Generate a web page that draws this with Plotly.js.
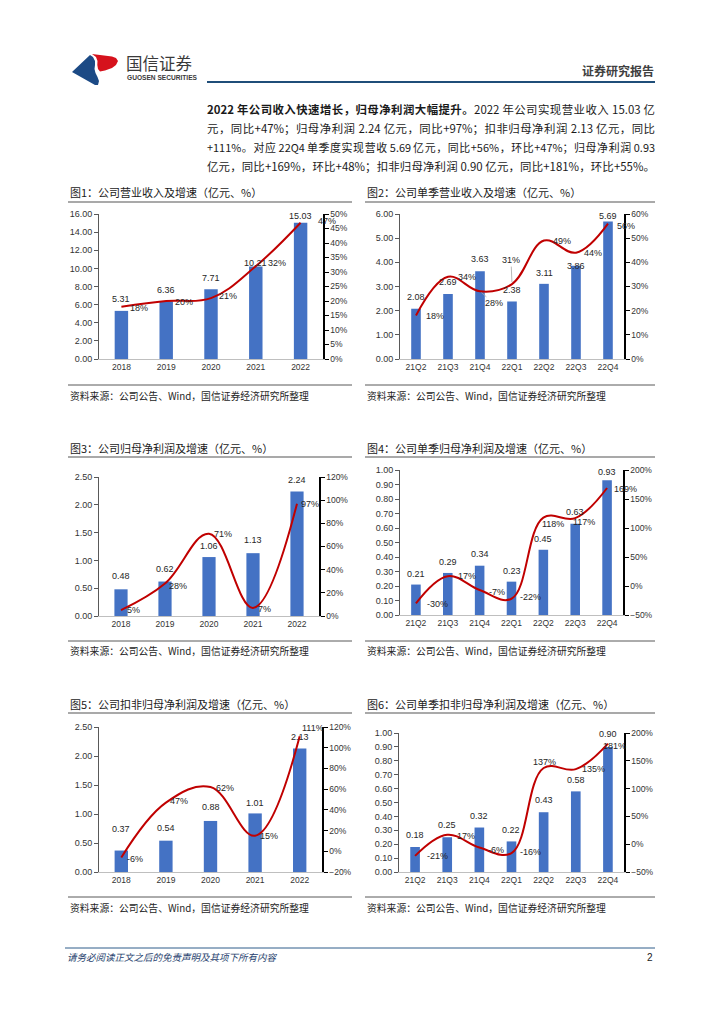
<!DOCTYPE html>
<html><head><meta charset="utf-8">
<script src="https://cdn.plot.ly/plotly-3.0.1.min.js"></script>
<style>
html,body{margin:0;padding:0;background:#fff;}
#page{position:relative;width:724px;height:1024px;overflow:hidden;background:#fff;}
#chart{position:absolute;left:0;top:0;width:724px;height:1024px;}
#para{position:absolute;left:207px;top:100px;width:448px;font-family:"Noto Sans CJK SC";font-size:11.4px;color:#1a1a1a;}
#para div{height:19px;line-height:19px;text-align:justify;text-align-last:justify;overflow:visible;}
#para div.tight{font-size:10.9px;word-spacing:-1px;}
</style></head>
<body>
<div id="page">
<div id="chart"></div>
<div id="para">
<div><b>2022 年公司收入快速增长，归母净利润大幅提升。</b>2022 年公司实现营业收入 15.03 亿</div>
<div>元，同比+47%；归母净利润 2.24 亿元，同比+97%；扣非归母净利润 2.13 亿元，同比</div>
<div class="tight">+111%。对应 22Q4 单季度实现营收 5.69 亿元，同比+56%，环比+47%；归母净利润 0.93</div>
<div>亿元，同比+169%，环比+48%；扣非归母净利润 0.90 亿元，同比+181%，环比+55%。</div>
</div>
</div>
<script>
// ---------- data ----------
const years = ['2018','2019','2020','2021','2022'];
const quarters = ['21Q2','21Q3','21Q4','22Q1','22Q2','22Q3','22Q4'];
const revenueAnnual = [5.31, 6.36, 7.71, 10.21, 15.03];
const revenueAnnualYoY = [18, 20, 21, 32, 47];
const revenueQuarter = [2.08, 2.69, 3.63, 2.38, 3.11, 3.86, 5.69];
const revenueQuarterYoY = [18, 34, 28, 31, 49, 44, 56];
const netProfitAnnual = [0.48, 0.62, 1.06, 1.13, 2.24];
const netProfitAnnualYoY = [5, 28, 71, 7, 97];
const netProfitQuarter = [0.21, 0.29, 0.34, 0.23, 0.45, 0.63, 0.93];
const netProfitQuarterYoY = [-30, 17, -7, -22, 118, 117, 169];
const deductedAnnual = [0.37, 0.54, 0.88, 1.01, 2.13];
const deductedAnnualYoY = [-6, 47, 62, 15, 111];
const deductedQuarter = [0.18, 0.25, 0.32, 0.22, 0.43, 0.58, 0.90];
const deductedQuarterYoY = [-21, 17, -6, -16, 137, 135, 181];
const chartTitles = [
  '图1：公司营业收入及增速（亿元、%）',
  '图2：公司单季营业收入及增速（亿元、%）',
  '图3：公司归母净利润及增速（亿元、%）',
  '图4：公司单季归母净利润及增速（亿元、%）',
  '图5：公司扣非归母净利润及增速（亿元、%）',
  '图6：公司单季扣非归母净利润及增速（亿元、%）'
];
const sourceText = '资料来源：公司公告、Wind，国信证券经济研究所整理';

// ---------- layout / style ----------
const W = 724, H = 1024;
const fx = p => p / W, fy = p => 1 - p / H;
// label offsets in pixels: bar labels (up), growth labels [dx, dy(up)], leader-line flags
const charts = [
  {cats: years, bars: revenueAnnual, yoy: revenueAnnualYoY, box: [99, 323, 214, 359], l: [0, 16, 2], r: [0, 50, 5],
   barDy: [12, 11, 11, 3, 7], lab: [[18,-1],[18,-1],[17,2],[21,3],[26,2]], lead: [0,0,0,0,0]},
  {cats: quarters, bars: revenueQuarter, yoy: revenueQuarterYoY, box: [400, 624, 214, 359], l: [0, 6, 1], r: [0, 60, 10],
   barDy: [12, 12, 12, 11, 11, 0, 5], lab: [[19,0],[19,0],[14,-12],[-1,24],[18,0],[17,0],[18,-2]], lead: [0,0,1,1,0,0,0]},
  {cats: years, bars: netProfitAnnual, yoy: netProfitAnnualYoY, box: [99, 319, 477, 616], l: [0, 2.5, 0.5], r: [0, 120, 20],
   barDy: [13, 13, 11, 13, 11], lab: [[12,0],[13,-2],[14,0],[11,-1],[13,0]], lead: [0,0,0,0,0]},
  {cats: quarters, bars: netProfitQuarter, yoy: netProfitQuarterYoY, box: [400, 623, 470, 615], l: [0, 1, 0.1], r: [-50, 200, 50],
   barDy: [11, 11, 12, 11, 11, 12, 8], lab: [[22,-1],[19,0],[17,-2],[19,2],[10,-6],[9,-4],[18,-1]], lead: [0,0,0,0,0,0,0]},
  {cats: years, bars: deductedAnnual, yoy: deductedAnnualYoY, box: [99, 322, 727, 872], l: [0, 2.5, 0.5], r: [-20, 120, 20],
   barDy: [22, 13, 14, 10, 11], lab: [[14,-1],[13,2],[14,-1],[14,0],[13,8]], lead: [0,0,0,0,0]},
  {cats: quarters, bars: deductedQuarter, yoy: deductedQuarterYoY, box: [399, 624, 733, 872], l: [0, 1, 0.1], r: [-50, 200, 50],
   barDy: [12, 12, 12, 11, 12, 11, 13], lab: [[22,0],[19,-1],[17,-2],[19,1],[1,6],[18,0],[7,-2]], lead: [0,0,0,0,0,0,0]}
];
const cols = [[68, 352], [365, 655]];
const rows = [
  {title: 192, under: 202, srcLine: 385, src: 396},
  {title: 448, under: 457, srcLine: 641, src: 651},
  {title: 704, under: 713, srcLine: 897, src: 908}
];

const FONT = 'Liberation Sans, Arial, sans-serif';
const CJK = 'Noto Sans CJK SC, sans-serif';
const traces = [];
const layout = {
  width: W, height: H, margin: {l: 0, r: 0, t: 0, b: 0},
  paper_bgcolor: '#fff', plot_bgcolor: 'rgba(0,0,0,0)', showlegend: false,
  font: {family: FONT, size: 9, color: '#333'},
  annotations: [], shapes: []
};

charts.forEach((c, i) => {
  const xid = i === 0 ? 'x' : 'x' + (i + 1);
  const yl = i === 0 ? 'y' : 'y' + (2 * i + 1);
  const yr = 'y' + (2 * i + 2);
  const [x0, x1, t, b] = c.box;
  traces.push({
    type: 'bar', x: c.cats, y: c.bars, xaxis: xid, yaxis: yl, width: 0.3,
    marker: {color: '#4472C4'}, hoverinfo: 'skip'
  });
  traces.push({
    type: 'scatter', mode: 'lines', x: c.cats, y: c.yoy, xaxis: xid, yaxis: yr,
    line: {color: '#C00000', width: 2, shape: 'spline', smoothing: 1.1}, cliponaxis: false, hoverinfo: 'skip'
  });
  c.cats.forEach((cat, k) => {
    // k is the category position on the category axis
    layout.annotations.push({
      xref: xid, yref: yl, x: k, y: c.bars[k], yshift: c.barDy[k], xanchor: 'center', yanchor: 'middle',
      text: c.bars[k].toFixed(2), showarrow: false, font: {family: FONT, size: 9, color: '#262626'}
    });
    const [dx, dy] = c.lab[k];
    if (c.lead[k]) {
      layout.annotations.push({
        xref: xid, yref: yr, x: k, y: c.yoy[k], ax: dx, ay: -dy, showarrow: true, arrowhead: 0,
        arrowwidth: 0.8, arrowcolor: '#a6a6a6', standoff: 2,
        text: c.yoy[k] + '%', font: {family: FONT, size: 9, color: '#262626'}
      });
    } else {
      layout.annotations.push({
        xref: xid, yref: yr, x: k, y: c.yoy[k], xshift: dx, yshift: dy, xanchor: 'center', yanchor: 'middle',
        text: c.yoy[k] + '%', showarrow: false, font: {family: FONT, size: 9, color: '#262626'}
      });
    }
  });
  layout[i === 0 ? 'xaxis' : 'xaxis' + (i + 1)] = {
    domain: [fx(x0), fx(x1)], anchor: yl, type: 'category', range: [-0.5, c.cats.length - 0.5],
    showline: true, linecolor: '#bfbfbf', linewidth: 1, ticks: '', showgrid: false, zeroline: false,
    tickfont: {family: FONT, size: 8.5, color: '#333'}, fixedrange: true
  };
  layout[i === 0 ? 'yaxis' : 'yaxis' + (2 * i + 1)] = {
    domain: [fy(b), fy(t)], anchor: xid, range: [c.l[0], c.l[1]], dtick: c.l[2], tick0: 0,
    tickformat: '.2f', showline: true, linecolor: '#595959', linewidth: 1, ticks: 'outside',
    ticklen: 4, tickcolor: '#595959', showgrid: false, zeroline: false,
    tickfont: {family: FONT, size: 9, color: '#333'}, fixedrange: true
  };
  layout['yaxis' + (2 * i + 2)] = {
    overlaying: yl, side: 'right', anchor: xid, range: [c.r[0], c.r[1]], dtick: c.r[2], tick0: 0,
    ticksuffix: '%', showline: true, linecolor: '#000', linewidth: 1.5, ticks: 'outside',
    ticklen: 4, tickcolor: '#000', showgrid: false, zeroline: false,
    tickfont: {family: FONT, size: 8.5, color: '#333'}, fixedrange: true
  };
  const col = cols[i % 2], row = rows[Math.floor(i / 2)];
  layout.annotations.push({
    xref: 'paper', yref: 'paper', x: fx(col[0]), y: fy(row.title), xanchor: 'left', yanchor: 'middle',
    text: chartTitles[i], showarrow: false, font: {family: CJK, size: 11, color: '#1a1a1a'}
  });
  layout.annotations.push({
    xref: 'paper', yref: 'paper', x: fx(col[0]), y: fy(row.src), xanchor: 'left', yanchor: 'middle',
    text: sourceText, showarrow: false, font: {family: CJK, size: 9.8, color: '#262626'}
  });
  layout.shapes.push({type: 'line', xref: 'paper', yref: 'paper', x0: fx(col[0]), x1: fx(col[1]),
    y0: fy(row.under), y1: fy(row.under), line: {color: '#8c8c8c', width: 1.5}});
  layout.shapes.push({type: 'line', xref: 'paper', yref: 'paper', x0: fx(col[0]), x1: fx(col[1]),
    y0: fy(row.srcLine), y1: fy(row.srcLine), line: {color: '#595959', width: 1}});
});

// ---------- header / footer ----------
function pathOf(pts) {
  return 'M' + pts.map(p => fx(p[0]).toFixed(5) + ',' + fy(p[1]).toFixed(5)).join('L') + 'Z';
}
const bluePts = [[72, 72], [90, 55], [93, 57], [95, 61], [95, 65], [94.5, 69], [95.5, 73], [97.5, 77], [99, 81], [98, 85], [95, 85]];
const redPts = [[92, 54], [112, 56.5], [116, 58], [118, 61], [116, 65], [112, 68], [105, 70.5], [100, 71.5], [98, 69], [97.3, 65], [97.5, 61], [96, 57]];
layout.shapes.push({type: 'path', xref: 'paper', yref: 'paper', path: pathOf(bluePts), fillcolor: '#1C4A85', line: {width: 0}});
layout.shapes.push({type: 'path', xref: 'paper', yref: 'paper', path: pathOf(redPts), fillcolor: '#D6121C', line: {width: 0}});
layout.shapes.push({type: 'line', xref: 'paper', yref: 'paper', x0: fx(207), x1: fx(655), y0: fy(82), y1: fy(82), line: {color: '#1F4E79', width: 2}});
layout.shapes.push({type: 'line', xref: 'paper', yref: 'paper', x0: fx(65), x1: fx(655), y0: fy(948), y1: fy(948), line: {color: '#2E5C8A', width: 1}});
layout.annotations.push(
  {xref: 'paper', yref: 'paper', x: fx(124), y: fy(63), xanchor: 'left', yanchor: 'middle', showarrow: false,
   text: '国信证券', font: {family: CJK, size: 16.5, color: '#3a3a3a'}},
  {xref: 'paper', yref: 'paper', x: fx(125), y: fy(77), xanchor: 'left', yanchor: 'middle', showarrow: false,
   text: '<b>GUOSEN SECURITIES</b>', font: {family: FONT, size: 6.6, color: '#3a3a3a'}},
  {xref: 'paper', yref: 'paper', x: fx(656), y: fy(70), xanchor: 'right', yanchor: 'middle', showarrow: false,
   text: '<b>证券研究报告</b>', font: {family: CJK, size: 12, color: '#404040'}},
  {xref: 'paper', yref: 'paper', x: fx(65), y: fy(957), xanchor: 'left', yanchor: 'middle', showarrow: false,
   text: '请务必阅读正文之后的免责声明及其项下所有内容', font: {family: CJK, size: 9.5, color: '#1F3F6E', style: 'italic'}},
  {xref: 'paper', yref: 'paper', x: fx(655), y: fy(957), xanchor: 'right', yanchor: 'middle', showarrow: false,
   text: '2', font: {family: FONT, size: 10, color: '#1a1a1a'}}
);

Plotly.newPlot('chart', traces, layout, {staticPlot: true, displayModeBar: false});
</script>
</body></html>
